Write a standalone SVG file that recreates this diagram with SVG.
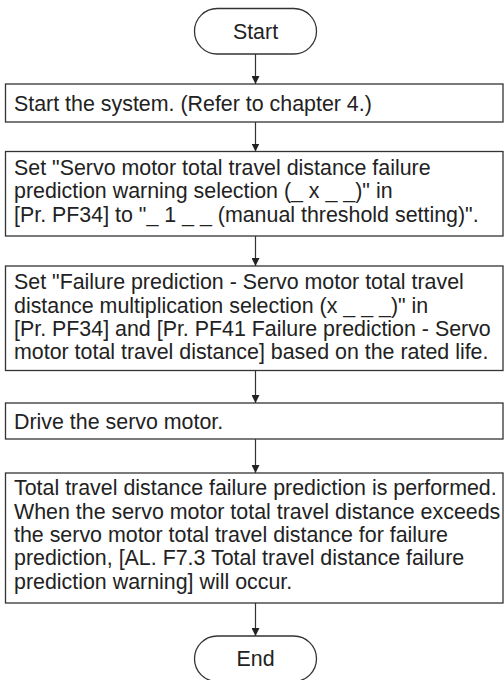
<svg xmlns="http://www.w3.org/2000/svg" width="504" height="680" viewBox="0 0 504 680">
<style>
.box{fill:#fff;stroke:#333;stroke-width:1.3}
.t{font-family:"Liberation Sans",Arial,sans-serif;font-size:21.4px;fill:#222}
.c{stroke:#333;stroke-width:1.2;fill:none}
</style>
<defs>
<marker id="ah" markerWidth="8" markerHeight="8" refX="8" refY="4" orient="auto" markerUnits="userSpaceOnUse">
<path d="M0,0 L8,4 L0,8 Z" fill="#222"/>
</marker>
</defs>
<rect width="504" height="680" fill="#fff"/>
<g id="connectors">
<line class="c" x1="255.5" y1="54" x2="255.5" y2="84" marker-end="url(#ah)"/>
<line class="c" x1="255.5" y1="122" x2="255.5" y2="151.5" marker-end="url(#ah)"/>
<line class="c" x1="255.5" y1="236" x2="255.5" y2="266" marker-end="url(#ah)"/>
<line class="c" x1="255.5" y1="370.5" x2="255.5" y2="403" marker-end="url(#ah)"/>
<line class="c" x1="255.5" y1="439" x2="255.5" y2="473" marker-end="url(#ah)"/>
<line class="c" x1="255.5" y1="603" x2="255.5" y2="636" marker-end="url(#ah)"/>
</g>
<g id="start">
<rect class="box" x="194.5" y="8.5" width="122" height="45.5" rx="22.75"/>
<text class="t" x="255.5" y="39" text-anchor="middle">Start</text>
</g>
<g id="step1">
<rect class="box" x="5.5" y="84" width="497.5" height="38"/>
<text class="t" x="14" y="110.5">Start the system. (Refer to chapter 4.)</text>
</g>
<g id="step2">
<rect class="box" x="5.5" y="151.5" width="497.5" height="84.5"/>
<text class="t" x="14" y="175">Set "Servo motor total travel distance failure</text>
<text class="t" x="14" y="198.3">prediction warning selection (_ x _ _)" in</text>
<text class="t" x="14" y="221.6">[Pr. PF34] to "_ 1 _ _ (manual threshold setting)".</text>
</g>
<g id="step3">
<rect class="box" x="5.5" y="266" width="497.5" height="104.5"/>
<text class="t" x="14" y="289.3">Set "Failure prediction - Servo motor total travel</text>
<text class="t" x="14" y="312.6">distance multiplication selection (x _ _ _)" in</text>
<text class="t" x="14" y="335.9">[Pr. PF34] and [Pr. PF41 Failure prediction - Servo</text>
<text class="t" x="14" y="359.2">motor total travel distance] based on the rated life.</text>
</g>
<g id="step4">
<rect class="box" x="5.5" y="403" width="497.5" height="36"/>
<text class="t" x="14" y="428.5">Drive the servo motor.</text>
</g>
<g id="step5">
<rect class="box" x="5.5" y="473" width="497.5" height="130"/>
<text class="t" x="14" y="495.3">Total travel distance failure prediction is performed.</text>
<text class="t" x="14" y="518.6">When the servo motor total travel distance exceeds</text>
<text class="t" x="14" y="541.9">the servo motor total travel distance for failure</text>
<text class="t" x="14" y="565.2">prediction, [AL. F7.3 Total travel distance failure</text>
<text class="t" x="14" y="588.5">prediction warning] will occur.</text>
</g>
<g id="end">
<rect class="box" x="194.5" y="636" width="122" height="45.5" rx="22.75"/>
<text class="t" x="255.5" y="666" text-anchor="middle">End</text>
</g>
</svg>
